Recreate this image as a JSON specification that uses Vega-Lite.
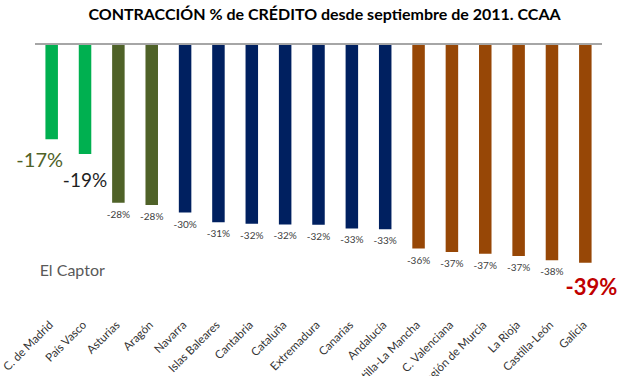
{
  "$schema": "https://vega.github.io/schema/vega-lite/v6.json",
  "width": 567,
  "height": 272,
  "autosize": {"type": "none"},
  "padding": {"left": 35, "top": 44, "right": 25, "bottom": 60},
  "background": "white",
  "title": {
    "text": "CONTRACCIÓN % de CRÉDITO desde septiembre de 2011. CCAA",
    "font": "Lato",
    "fontSize": 16,
    "fontWeight": "bold",
    "color": "#000000",
    "anchor": "middle",
    "offset": 20,
    "dx": 6
  },
  "config": {"view": {"stroke": null}},
  "data": {
    "values": [
      {"region": "C. de Madrid", "valor": -16.8, "tramo": "menos del 20%"},
      {"region": "País Vasco", "valor": -19.4, "tramo": "menos del 20%"},
      {"region": "Asturias", "valor": -28.0, "tramo": "20-30%"},
      {"region": "Aragón", "valor": -28.4, "tramo": "20-30%"},
      {"region": "Navarra", "valor": -29.75, "tramo": "30-35%"},
      {"region": "Islas Baleares", "valor": -31.45, "tramo": "30-35%"},
      {"region": "Cantabria", "valor": -31.7, "tramo": "30-35%"},
      {"region": "Cataluña", "valor": -31.85, "tramo": "30-35%"},
      {"region": "Extremadura", "valor": -31.9, "tramo": "30-35%"},
      {"region": "Canarias", "valor": -32.55, "tramo": "30-35%"},
      {"region": "Andalucía", "valor": -32.7, "tramo": "30-35%"},
      {"region": "Castilla-La Mancha", "valor": -36.1, "tramo": "más del 35%"},
      {"region": "C. Valenciana", "valor": -36.7, "tramo": "más del 35%"},
      {"region": "Región de Murcia", "valor": -37.0, "tramo": "más del 35%"},
      {"region": "La Rioja", "valor": -37.4, "tramo": "más del 35%"},
      {"region": "Castilla-León", "valor": -38.15, "tramo": "más del 35%"},
      {"region": "Galicia", "valor": -38.6, "tramo": "más del 35%"}
    ]
  },
  "transform": [{"calculate": "round(datum.valor) + '%'", "as": "etiqueta"}],
  "encoding": {
    "x": {
      "field": "region",
      "type": "nominal",
      "sort": null,
      "scale": {"paddingInner": 0, "paddingOuter": 0},
      "axis": {
        "title": null,
        "orient": "bottom",
        "domain": false,
        "ticks": false,
        "labelAngle": -45,
        "labelAlign": "right",
        "labelBaseline": "middle",
        "labelPadding": 7,
        "labelFont": "Lato",
        "labelFontSize": 11.5,
        "labelColor": "#333333",
        "labelOverlap": false
      }
    },
    "y": {
      "field": "valor",
      "type": "quantitative",
      "scale": {"domain": [-48, 0], "nice": false, "zero": false},
      "axis": null
    }
  },
  "layer": [
    {
      "mark": {"type": "bar", "width": {"band": 0.375}},
      "encoding": {
        "color": {
          "field": "tramo",
          "type": "nominal",
          "scale": {
            "domain": ["menos del 20%", "20-30%", "30-35%", "más del 35%"],
            "range": ["#00B050", "#4F6228", "#002060", "#974706"]
          },
          "legend": null
        }
      }
    },
    {
      "mark": {"type": "rule", "color": "#A6A6A6", "strokeWidth": 1.5},
      "encoding": {"y": {"datum": 0}, "x": {"value": 0}, "x2": {"value": 567}}
    },
    {
      "transform": [{"filter": "datum.region !== 'C. de Madrid' && datum.region !== 'País Vasco' && datum.region !== 'Galicia'"}],
      "mark": {"type": "text", "font": "Lato", "fontSize": 10, "color": "#404040", "baseline": "alphabetic", "dy": 15},
      "encoding": {"text": {"field": "etiqueta", "type": "nominal"}}
    },
    {
      "transform": [{"filter": "datum.region === 'C. de Madrid'"}],
      "mark": {"type": "text", "font": "Lato", "fontSize": 20, "color": "#4F6228", "baseline": "alphabetic", "dy": 28, "dx": -12},
      "encoding": {"text": {"field": "etiqueta", "type": "nominal"}}
    },
    {
      "transform": [{"filter": "datum.region === 'País Vasco'"}],
      "mark": {"type": "text", "font": "Lato", "fontSize": 19, "color": "#1F1F1F", "baseline": "alphabetic", "dy": 33},
      "encoding": {"text": {"field": "etiqueta", "type": "nominal"}}
    },
    {
      "transform": [{"filter": "datum.region === 'Galicia'"}],
      "mark": {"type": "text", "font": "Lato", "fontSize": 22, "fontWeight": "bold", "color": "#C00000", "baseline": "alphabetic", "dy": 32, "dx": 6},
      "encoding": {"text": {"field": "etiqueta", "type": "nominal"}}
    },
    {
      "transform": [{"filter": "datum.region === 'C. de Madrid'"}],
      "mark": {"type": "text", "font": "Lato", "fontSize": 16, "color": "#595959", "align": "left", "baseline": "middle", "dx": -12, "text": "El Captor"},
      "encoding": {"y": {"datum": -40}}
    }
  ]
}
